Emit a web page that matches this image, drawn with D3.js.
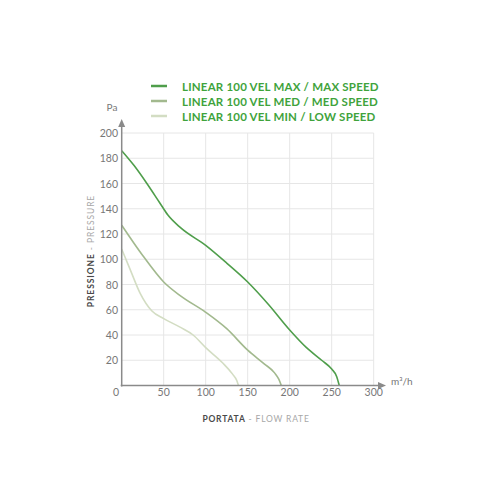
<!DOCTYPE html>
<html><head><meta charset="utf-8">
<script src="https://cdn.jsdelivr.net/npm/d3@7"></script>
<style>
html,body{margin:0;padding:0;background:#fff;}
svg{display:block;font-family:Lato, "Open Sans", sans-serif;}
</style></head>
<body>
<svg id="c" width="500" height="500"></svg>
<script>
const seriesNames = ["LINEAR 100 VEL MAX / MAX SPEED","LINEAR 100 VEL MED / MED SPEED","LINEAR 100 VEL MIN / LOW SPEED"];
const seriesColors = ["#4f9e4b","#a2b98e","#d3ddc3"];
const maxSpeed = [[0,186],[15,174],[30,160],[45,145],[55,135],[70,125],[100,111],[125,97],[150,82],[175,64],[200,44],[220,30],[238,20],[250,13],[256,7],[259,0]];
const medSpeed = [[0,127],[25,103],[50,82],[70,71],[100,58],[125,45],[150,28],[170,17],[182,10],[187,5],[190,0]];
const lowSpeed = [[0,108],[10,92],[22,73],[36,59],[50,53],[70,46],[85,40],[100,30],[120,18],[132,9],[137,4],[139,0]];
const xTicks = [0,50,100,150,200,250,300];
const yTicks = [20,40,60,80,100,120,140,160,180,200];

const svg = d3.select("#c");
const x = d3.scaleLinear().domain([0,300]).range([121.7,373.7]);
const y = d3.scaleLinear().domain([0,200]).range([385.5,133]);

// grid
const g = svg.append("g");
g.selectAll(".vg").data(xTicks.slice(1)).join("line")
  .attr("x1",d=>x(d)).attr("x2",d=>x(d)).attr("y1",y(0)).attr("y2",y(200))
  .attr("stroke","#e6e6e6").attr("stroke-width",1);
g.selectAll(".hg").data(yTicks).join("line")
  .attr("x1",x(0)).attr("x2",x(300)).attr("y1",d=>y(d)).attr("y2",d=>y(d))
  .attr("stroke","#e6e6e6").attr("stroke-width",1);

// curves
const line = d3.line().x(d=>x(d[0])).y(d=>y(d[1])).curve(d3.curveMonotoneX);
[lowSpeed, medSpeed, maxSpeed].forEach((s,i)=>{
  svg.append("path").datum(s).attr("d",line).attr("fill","none")
    .attr("stroke",seriesColors[2-i]).attr("stroke-width",1.6);
});

// axes
const axisCol = "#8a8a8a";
svg.append("line").attr("x1",x(0)).attr("x2",x(0)).attr("y1",y(0)+1).attr("y2",124).attr("stroke",axisCol).attr("stroke-width",1.5);
svg.append("path").attr("d",`M${x(0)-3.5},127 L${x(0)},119 L${x(0)+3.5},127 Z`).attr("fill",axisCol);
svg.append("line").attr("x1",x(0)-1).attr("x2",381).attr("y1",y(0)).attr("y2",y(0)).attr("stroke",axisCol).attr("stroke-width",1.5);
svg.append("path").attr("d",`M378,${y(0)-3.5} L386,${y(0)} L378,${y(0)+3.5} Z`).attr("fill",axisCol);

// tick labels
const tcol = "#777";
svg.selectAll(".yt").data(yTicks).join("text")
  .attr("x",118).attr("y",d=>y(d)+4).attr("text-anchor","end")
  .attr("font-size",10.5).attr("fill",tcol).text(d=>d);
svg.selectAll(".xt").data(xTicks).join("text")
  .attr("x",d=>d===0?116:x(d)).attr("y",396).attr("text-anchor","middle")
  .attr("font-size",10.5).attr("fill",tcol).text(d=>d);
svg.append("text").attr("x",112).attr("y",111).attr("text-anchor","middle").attr("font-size",10).attr("fill",tcol).text("Pa");
svg.append("text").attr("x",391).attr("y",385).attr("font-size",10).attr("fill",tcol).text("m³/h");

// axis titles
const yt = svg.append("text").attr("transform","translate(94,251) rotate(-90)").attr("text-anchor","middle")
  .attr("font-size",8.5).attr("letter-spacing",0.9);
yt.append("tspan").attr("font-weight","bold").attr("fill","#4a4a4a").text("PRESSIONE");
yt.append("tspan").attr("fill","#a8a8a8").text(" - PRESSURE");
const xt = svg.append("text").attr("x",256).attr("y",422).attr("text-anchor","middle")
  .attr("font-size",8.5).attr("letter-spacing",0.8);
xt.append("tspan").attr("font-weight","bold").attr("fill","#4a4a4a").text("PORTATA");
xt.append("tspan").attr("fill","#a8a8a8").text(" - FLOW RATE");

// legend
seriesNames.forEach((n,i)=>{
  const ly = 86 + i*15;
  svg.append("line").attr("x1",151).attr("x2",167).attr("y1",ly).attr("y2",ly)
    .attr("stroke",seriesColors[i]).attr("stroke-width",2.5);
  svg.append("text").attr("x",182).attr("y",ly+4.5).attr("font-size",11.5).attr("font-weight","bold")
    .attr("letter-spacing",0.2).attr("fill","#3fa33c").text(n);
});
</script>
</body></html>
